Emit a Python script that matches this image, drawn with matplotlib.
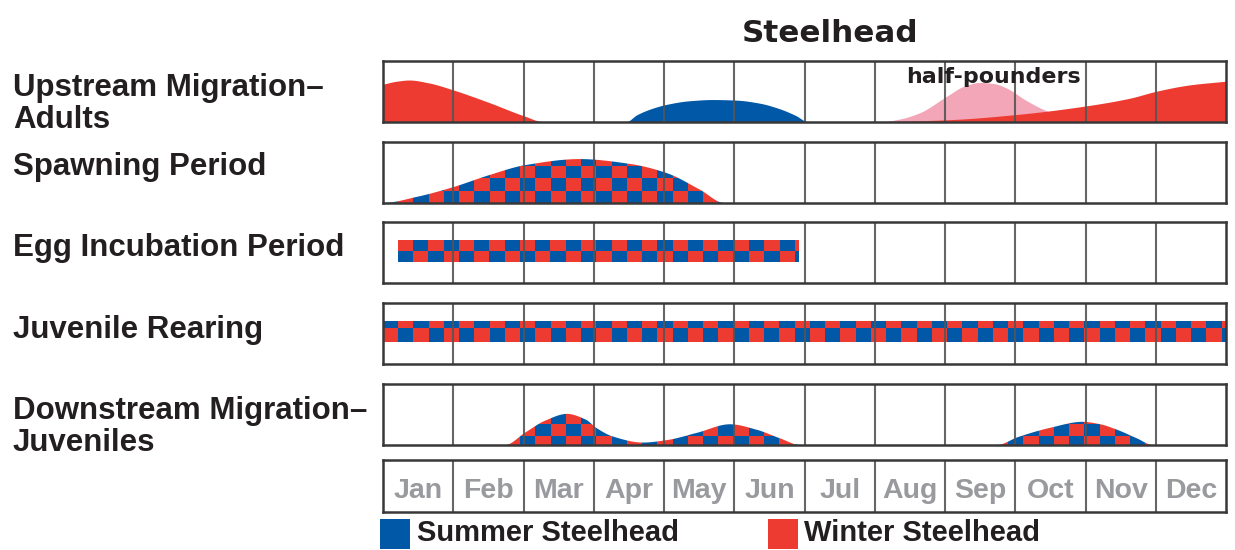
import numpy as np
import matplotlib
matplotlib.use("Agg")
import matplotlib.pyplot as plt
from matplotlib.patches import Polygon, Rectangle

# ---------------------------------------------------------------- data
months = ["Jan", "Feb", "Mar", "Apr", "May", "Jun",
          "Jul", "Aug", "Sep", "Oct", "Nov", "Dec"]

row_labels = [["Upstream Migration–", "Adults"],
              ["Spawning Period"],
              ["Egg Incubation Period"],
              ["Juvenile Rearing"],
              ["Downstream Migration–", "Juveniles"]]

# x positions are in months (0 = start of Jan, 12 = end of Dec),
# y values are relative abundance within the panel (0..1)
winter_up_early_x = [0.00, 0.20, 0.38, 0.67, 1.00, 1.52, 2.02, 2.28]
winter_up_early_y = [0.61, 0.66, 0.68, 0.63, 0.52, 0.31, 0.09, 0.00]

winter_up_late_x = [7.12, 8.07, 9.07, 10.04, 10.63, 11.03, 11.49, 12.00]
winter_up_late_y = [0.00, 0.03, 0.12, 0.26, 0.38, 0.50, 0.60, 0.66]

summer_up_x = [3.47, 3.62, 3.80, 4.04, 4.37, 4.70, 5.04, 5.37, 5.65, 5.88, 6.05]
summer_up_y = [0.00, 0.11, 0.20, 0.28, 0.34, 0.36, 0.35, 0.30, 0.21, 0.10, 0.00]

half_pounder_x = [7.12, 7.36, 7.64, 8.04, 8.28, 8.50, 8.71, 8.88, 9.17, 9.49, 9.85]
half_pounder_y = [0.00, 0.04, 0.14, 0.42, 0.58, 0.64, 0.62, 0.55, 0.34, 0.16, 0.05]

spawning_x = [0.00, 0.48, 1.00, 1.52, 2.02, 2.80, 3.52, 4.04, 4.51, 4.86]
spawning_y = [0.00, 0.10, 0.26, 0.46, 0.62, 0.72, 0.64, 0.49, 0.22, 0.00]

egg_start, egg_end = 0.22, 5.92
juvenile_start, juvenile_end = 0.0, 12.0

down_spring_x = [1.74, 2.02, 2.31, 2.62, 2.88, 3.05, 3.27, 3.70, 4.04, 4.47, 4.94, 5.32, 5.65, 5.94]
down_spring_y = [0.00, 0.20, 0.40, 0.51, 0.42, 0.27, 0.14, 0.04, 0.08, 0.20, 0.34, 0.25, 0.11, 0.00]

down_fall_x = [8.74, 9.04, 9.49, 9.96, 10.21, 10.45, 10.73, 10.96]
down_fall_y = [0.00, 0.13, 0.28, 0.38, 0.34, 0.25, 0.11, 0.00]

legend_labels = ["Summer Steelhead", "Winter Steelhead"]

# ---------------------------------------------------------------- style
RED = "#EE3B31"
BLUE = "#0058A7"
PINK = "#F2A6B7"
INK = "#231F20"
MONTH_GREY = "#999A9D"
GRID = "#555555"
FRAME = "#383838"
SANS = "Liberation Sans"

W, H = 1235, 550
fig = plt.figure(figsize=(W / 100, H / 100), dpi=100)
fig.patch.set_facecolor("white")

PANEL_LEFT, PANEL_RIGHT = 383, 1226
panel_rows = [(61, 122), (142, 203), (222, 283), (303, 364), (384, 445)]


def fx(px):
    return px / W


def fy(py):
    return 1 - py / H


def make_axes(top, bottom, grid=True):
    ax = fig.add_axes([fx(PANEL_LEFT), fy(bottom),
                       (PANEL_RIGHT - PANEL_LEFT) / W, (bottom - top) / H])
    ax.set_xlim(0, 12)
    ax.set_ylim(0, 1)
    ax.set_xticks([])
    ax.set_yticks([])
    for s in ax.spines.values():
        s.set_color(FRAME)
        s.set_linewidth(1.8)
        s.set_zorder(6)
    if grid:
        for m in range(1, 12):
            ax.axvline(m, color=GRID, lw=1.5, zorder=5, alpha=0.9)
    return ax


def pchip(x, y, n=300):
    """Monotone cubic (Fritsch-Carlson) curve through the given points."""
    x = np.asarray(x, float)
    y = np.asarray(y, float)
    h = np.diff(x)
    d = np.diff(y) / h
    m = np.zeros_like(y)
    m[0], m[-1] = d[0], d[-1]
    for k in range(1, len(x) - 1):
        if d[k - 1] * d[k] <= 0:
            m[k] = 0.0
        else:
            w1 = 2 * h[k] + h[k - 1]
            w2 = h[k] + 2 * h[k - 1]
            m[k] = (w1 + w2) / (w1 / d[k - 1] + w2 / d[k])
    if y[0] == 0:
        m[0] = 0.0
    if y[-1] == 0:
        m[-1] = 0.0
    xs = np.linspace(x[0], x[-1], n)
    idx = np.clip(np.searchsorted(x, xs, side="right") - 1, 0, len(x) - 2)
    t = (xs - x[idx]) / h[idx]
    h00 = 2 * t**3 - 3 * t**2 + 1
    h10 = t**3 - 2 * t**2 + t
    h01 = -2 * t**3 + 3 * t**2
    h11 = t**3 - t**2
    ys = (h00 * y[idx] + h10 * h[idx] * m[idx]
          + h01 * y[idx + 1] + h11 * h[idx] * m[idx + 1])
    return xs, np.clip(ys, 0, None)


def area_patch(ax, x, y, color, z):
    xs, ys = pchip(x, y)
    verts = [(xs[0], 0)] + list(zip(xs, ys)) + [(xs[-1], 0)]
    poly = Polygon(verts, closed=True, facecolor=color, edgecolor="none",
                   zorder=z)
    ax.add_patch(poly)
    return poly


CELL_W = 15.25 / 70.25  # months


def checker(ax, clip, y0, cell_h, nrows, col_shift=0):
    ncols = int(np.ceil(12 / CELL_W)) + 1
    img = np.zeros((nrows, ncols, 3))
    red = np.array(matplotlib.colors.to_rgb(RED))
    blue = np.array(matplotlib.colors.to_rgb(BLUE))
    for r in range(nrows):
        for c in range(ncols):
            img[r, c] = red if (r + c + col_shift) % 2 == 0 else blue
    im = ax.imshow(img, origin="lower", interpolation="nearest", aspect="auto",
                   extent=(0, ncols * CELL_W, y0, y0 + nrows * cell_h),
                   zorder=2)
    im.set_clip_path(clip)
    ax.set_xlim(0, 12)
    ax.set_ylim(0, 1)
    return im


# ---------------------------------------------------------------- panels
ax_up = make_axes(*panel_rows[0])
area_patch(ax_up, half_pounder_x, half_pounder_y, PINK, 2)
area_patch(ax_up, winter_up_late_x, winter_up_late_y, RED, 3)
area_patch(ax_up, winter_up_early_x, winter_up_early_y, RED, 3)
area_patch(ax_up, summer_up_x, summer_up_y, BLUE, 3)
ax_up.text((993.5 - PANEL_LEFT) / 70.25, (122 - 83) / 61, "half-pounders",
           family="DejaVu Sans", weight="bold", fontsize=15.9, color=INK,
           ha="center", va="baseline", zorder=7)

ax_sp = make_axes(*panel_rows[1])
sp_clip = Polygon(list(zip(*pchip(spawning_x, spawning_y)))
                  + [(spawning_x[-1], 0), (spawning_x[0], 0)],
                  closed=True, facecolor="none", edgecolor="none")
ax_sp.add_patch(sp_clip)
checker(ax_sp, sp_clip, 0.0, 0.205, 5, col_shift=1)

ax_egg = make_axes(*panel_rows[2])
egg_clip = Rectangle((egg_start, 0.344), egg_end - egg_start, 0.36,
                     facecolor="none", edgecolor="none")
ax_egg.add_patch(egg_clip)
checker(ax_egg, egg_clip, 0.344, 0.18, 2)

ax_juv = make_axes(*panel_rows[3])
juv_clip = Rectangle((juvenile_start, 0.36), juvenile_end - juvenile_start,
                     0.345, facecolor="none", edgecolor="none")
ax_juv.add_patch(juv_clip)
checker(ax_juv, juv_clip, 0.36, 0.213, 2)

ax_dn = make_axes(*panel_rows[4])
for xs_, ys_ in [(down_spring_x, down_spring_y), (down_fall_x, down_fall_y)]:
    px_, py_ = pchip(xs_, ys_)
    clip = Polygon(list(zip(px_, py_)) + [(xs_[-1], 0), (xs_[0], 0)],
                   closed=True, facecolor="none", edgecolor="none")
    ax_dn.add_patch(clip)
    checker(ax_dn, clip, -0.07, 0.21, 5)

# month strip
ax_m = make_axes(460, 512)
for i, name in enumerate(months):
    ax_m.text(i + 0.5, (512 - 498.5) / 52, name, family=SANS, weight="bold",
              fontsize=20.5, color=MONTH_GREY, ha="center", va="baseline")

# ---------------------------------------------------------------- text
fig.text(fx(830.5), fy(42), "Steelhead", family="DejaVu Sans", weight="bold",
         fontsize=22.3, color=INK, ha="center", va="baseline")

label_baselines = [[96, 128], [175], [256], [338], [419, 451]]
for lines, bases in zip(row_labels, label_baselines):
    for line, b in zip(lines, bases):
        fig.text(fx(13), fy(b), line, family=SANS, weight="bold",
                 fontsize=22.5, color=INK, ha="left", va="baseline")

# legend
for (sq_left, txt_left), color, label in zip([(380, 417), (768, 804)],
                                             [BLUE, RED], legend_labels):
    fig.add_artist(Rectangle((fx(sq_left), fy(549)), 30 / W, 30 / H,
                             transform=fig.transFigure, facecolor=color,
                             edgecolor="none"))
    fig.text(fx(txt_left), fy(541), label, family=SANS, weight="bold",
             fontsize=21, color=INK, ha="left", va="baseline")

fig.savefig("out.png", dpi=100, facecolor="white")
